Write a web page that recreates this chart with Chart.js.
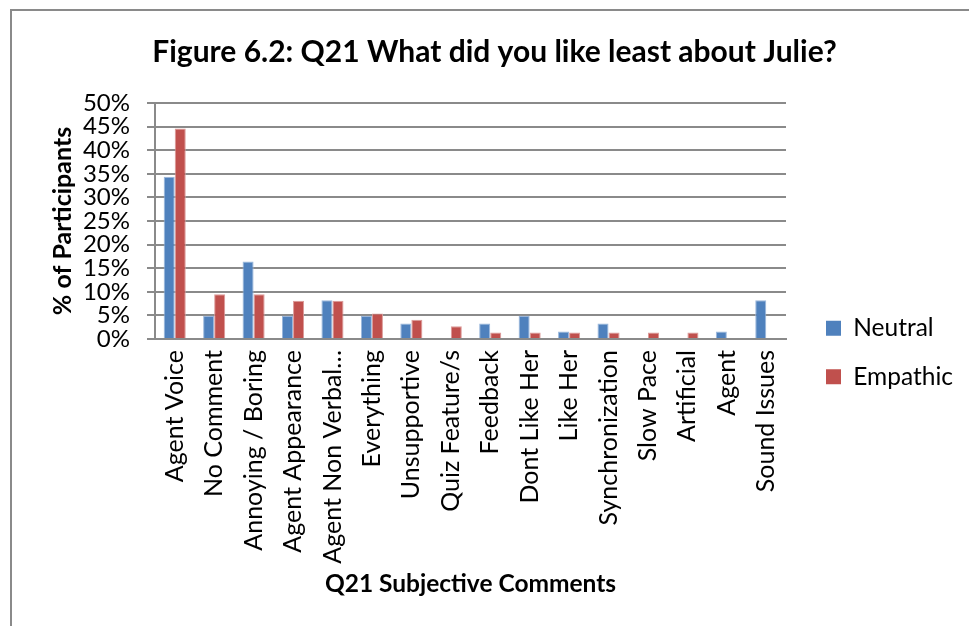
<!DOCTYPE html>
<html>
<head>
<meta charset="utf-8">
<title>Figure 6.2</title>
<script src="https://cdn.jsdelivr.net/npm/chart.js@4.4.1/dist/chart.umd.min.js"></script>
<style>
  html, body { margin: 0; padding: 0; background: #ffffff; }
  #wrap { position: relative; width: 969px; height: 626px; overflow: hidden; background: #ffffff; }
  #wrap canvas { position: absolute; left: 0; top: 0; }
  /* chart frame: only its top and left edges fall inside the page */
  #frame { position: absolute; left: 10px; top: 9px; width: 1000px; height: 700px;
           border-left: 2px solid #8a8a8a; border-top: 2px solid #8a8a8a; pointer-events: none; }
</style>
</head>
<body>
<div id="wrap">
  <canvas id="chart" width="969" height="626"></canvas>
  <div id="frame"></div>
</div>
<script>
// Q21 answers, as % of participants in each condition
const categories = [
  "Agent Voice", "No Comment", "Annoying / Boring", "Agent Appearance",
  "Agent Non Verbal…", "Everything", "Unsupportive", "Quiz Feature/s",
  "Feedback", "Dont Like Her", "Like Her", "Synchronization",
  "Slow Pace", "Artificial", "Agent", "Sound Issues"
];
const neutral  = [34.4, 4.9, 16.4, 4.9, 8.2, 4.9, 3.3, 0, 3.3, 4.9, 1.6, 3.3, 0, 0, 1.6, 8.2];
const empathic = [44.6, 9.5, 9.5, 8.1, 8.1, 5.4, 4.1, 2.7, 1.4, 1.4, 1.4, 1.4, 1.4, 1.4, 0, 0];
const seriesNames = ["Neutral", "Empathic"];
const yTicks = [0, 5, 10, 15, 20, 25, 30, 35, 40, 45, 50];

const chartTitle = "Figure 6.2: Q21 What did you like least about Julie?";
const xTitle = "Q21 Subjective Comments";
const yTitle = "% of Participants";

Chart.defaults.font.family = "Lato, 'Open Sans', sans-serif";
Chart.defaults.color = "#000000";

const GRID = "#8a8a8a";
const LEGEND_WIDTH = 183;

// keeps the legend in its own fixed-width column to the right of the plot
const legendPlacement = {
  id: "legendPlacement",
  afterInit(chart) {
    const lg = chart.legend;
    const fit = lg.fit.bind(lg);
    lg.fit = function () { fit(); this.width = LEGEND_WIDTH; };
  },
  afterLayout(chart) {
    const lg = chart.legend;
    const pad = lg.options.labels.padding;
    const h = lg.bottom - lg.top;
    lg.left = 826 - pad;
    lg.right = lg.left + LEGEND_WIDTH;
    lg.top = 292;
    lg.bottom = lg.top + h;
  }
};

new Chart(document.getElementById("chart"), {
  type: "bar",
  data: {
    labels: categories,
    datasets: [
      { label: seriesNames[0], data: neutral,  backgroundColor: "#4F81BD", borderColor: "#9ab7dc", borderWidth: 1 },
      { label: seriesNames[1], data: empathic, backgroundColor: "#C0504D", borderColor: "#dc9a98", borderWidth: 1 }
    ]
  },
  options: {
    responsive: false,
    devicePixelRatio: 1,
    animation: false,
    layout: { padding: { left: 20, right: 0, top: 0, bottom: 0 } },
    datasets: { bar: { categoryPercentage: 0.56, barPercentage: 1.0 } },
    plugins: {
      tooltip: { enabled: false },
      title: {
        display: true,
        text: chartTitle,
        color: "#000000",
        font: { size: 30, weight: "bold" },
        padding: { top: 34, bottom: 33 }
      },
      legend: {
        position: "right",
        align: "start",
        labels: {
          boxWidth: 15,
          boxHeight: 15,
          padding: 24,
          color: "#000000",
          font: { size: 24.5 },
          generateLabels(chart) {
            const items = Chart.defaults.plugins.legend.labels.generateLabels(chart);
            items.forEach(it => { it.lineWidth = 0; it.strokeStyle = it.fillStyle; });
            return items;
          }
        }
      }
    },
    scales: {
      x: {
        grid: { display: false, drawTicks: false },
        border: { display: true, color: GRID, width: 2 },
        ticks: { autoSkip: false, minRotation: 90, maxRotation: 90, padding: 11, color: "#000000", font: { size: 25 } },
        title: { display: true, text: xTitle, color: "#000000", font: { size: 24.5, weight: "bold" }, padding: { top: 0, bottom: 27 } },
        afterFit(scale) { scale.height = 287; }
      },
      y: {
        min: yTicks[0],
        max: yTicks[yTicks.length - 1],
        afterBuildTicks(scale) { scale.ticks = yTicks.map(v => ({ value: v })); },
        ticks: { autoSkip: false, callback: v => v + "%", padding: 17, color: "#000000", font: { size: 24 } },
        grid: { color: GRID, lineWidth: 2, tickLength: 8, drawTicks: true },
        border: { display: true, color: GRID, width: 2 },
        title: { display: true, text: yTitle, color: "#000000", font: { size: 25, weight: "bold" }, padding: { top: 28, bottom: 0 } },
        afterFit(scale) { scale.width = 135; }
      }
    }
  },
  plugins: [legendPlacement]
});
</script>
</body>
</html>
